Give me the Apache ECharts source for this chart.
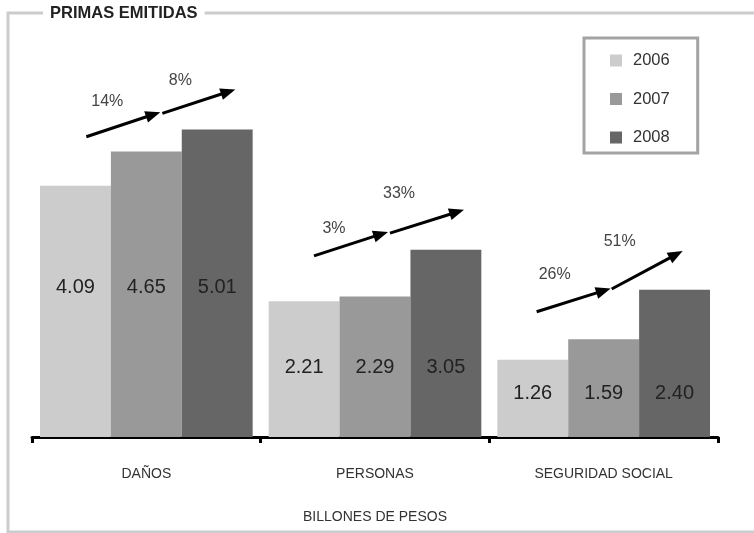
<!DOCTYPE html>
<html>
<head>
<meta charset="utf-8">
<script src="https://cdn.jsdelivr.net/npm/echarts@6/dist/echarts.min.js"></script>
<style>
html,body{margin:0;padding:0;background:#fff;}
#chart{width:754px;height:533px;}
</style>
</head>
<body>
<div id="chart"></div>
<script>
// ---- data ----
var categories = ['DAÑOS', 'PERSONAS', 'SEGURIDAD SOCIAL'];
var years = ['2006', '2007', '2008'];
var values2006 = [4.09, 2.21, 1.26];
var values2007 = [4.65, 2.29, 1.59];
var values2008 = [5.01, 3.05, 2.40];
var growth0607 = ['14%', '3%', '26%'];
var growth0708 = ['8%', '33%', '51%'];
var axisName = 'BILLONES DE PESOS';
var titleText = 'PRIMAS EMITIDAS';

// ---- styling / annotation layout ----
var colors = ['#cccccc', '#999999', '#666666'];
var labelDistance = [140, 60, 34];
// arrow geometry per category: [dx pixel offset from category centre, value]
var arrowGeom = [
  {a1: [[-60, 4.89], [14, 5.29]], a2: [[16, 5.27], [89, 5.66]], l1: [-39, 5.47], l2: [34, 5.80]},
  {a1: [[-61, 2.95], [13, 3.34]], a2: [[15, 3.32], [89, 3.70]], l1: [-41, 3.39], l2: [24, 3.96]},
  {a1: [[-67, 2.04], [7, 2.42]],  a2: [[8, 2.41], [79, 3.03]],  l1: [-49, 2.64], l2: [16, 3.19]}
];

var FONT = '"Liberation Sans", Arial, sans-serif';

function barSeries(name, vals, color) {
  return {
    name: name,
    type: 'bar',
    barGap: '0%',
    barCategoryGap: '7%',
    itemStyle: {color: color},
    label: {
      show: true,
      position: 'insideBottom',
      fontFamily: FONT,
      fontSize: 20,
      color: '#222',
      formatter: function (p) { return p.value.toFixed(2); }
    },
    data: vals.map(function (v, i) {
      return {value: v, label: {distance: labelDistance[i]}};
    })
  };
}

function arrowShapes(api, cx, seg) {
  var p0 = api.coord([0, seg[0][1]]); var p1 = api.coord([0, seg[1][1]]);
  var x0 = cx + seg[0][0], y0 = p0[1], x1 = cx + seg[1][0], y1 = p1[1];
  var dx = x1 - x0, dy = y1 - y0, len = Math.sqrt(dx * dx + dy * dy);
  var ux = dx / len, uy = dy / len;
  var hl = 15, hw = 6;
  var bx = x1 - ux * hl, by = y1 - uy * hl;
  return [
    {type: 'line', shape: {x1: x0, y1: y0, x2: bx + ux * 2, y2: by + uy * 2},
     style: {stroke: '#000', lineWidth: 3}},
    {type: 'polygon', shape: {points: [[x1, y1], [bx - uy * hw, by + ux * hw], [bx + uy * hw, by - ux * hw]]},
     style: {fill: '#000'}}
  ];
}

var chart = echarts.init(document.getElementById('chart'), null, {renderer: 'canvas'});
var option = {
  animation: false,
  color: colors,
  title: {
    text: titleText,
    left: 43,
    top: 3,
    padding: [2, 7, 2, 7],
    backgroundColor: '#fff',
    z: 10,
    textStyle: {fontFamily: FONT, fontSize: 16.5, fontWeight: 'bold', color: '#222'}
  },
  graphic: [{
    type: 'rect', z: 0, silent: true,
    shape: {x: 8, y: 13, width: 760, height: 519},
    style: {fill: null, stroke: '#cccccc', lineWidth: 3}
  }],
  legend: {
    data: years,
    orient: 'vertical',
    left: 584,
    top: 38,
    padding: [14, 28, 7, 26],
    borderColor: '#a3a3a3',
    borderWidth: 3,
    itemWidth: 12,
    itemHeight: 12,
    itemGap: 21.5,
    icon: 'rect',
    textStyle: {fontFamily: FONT, fontSize: 16.5, color: '#333', lineHeight: 16, padding: [0, 0, 0, 6]}
  },
  grid: {left: 32, right: 36, top: 68.6, bottom: 96},
  xAxis: {
    type: 'category',
    data: categories,
    name: axisName,
    nameLocation: 'middle',
    nameGap: 73,
    nameTextStyle: {fontFamily: FONT, fontSize: 14, color: '#333'},
    axisLine: {lineStyle: {color: '#000', width: 3}},
    axisTick: {show: true, length: 6, lineStyle: {color: '#000', width: 3}},
    axisLabel: {fontFamily: FONT, fontSize: 14, color: '#333', margin: 30}
  },
  yAxis: {
    type: 'value', min: 0, max: 6, show: false,
    splitLine: {show: false}
  },
  series: [
    barSeries(years[0], values2006, colors[0]),
    barSeries(years[1], values2007, colors[1]),
    barSeries(years[2], values2008, colors[2]),
    {
      type: 'custom',
      name: 'growth',
      clip: false,
      z: 5,
      data: categories.map(function (c, i) { return [i, growth0607[i], growth0708[i]]; }),
      renderItem: function (params, api) {
        var i = params.dataIndex;
        var cx = api.coord([i, 0])[0];
        var g = arrowGeom[i];
        var children = [].concat(arrowShapes(api, cx, g.a1), arrowShapes(api, cx, g.a2));
        var t1 = api.coord([i, g.l1[1]]), t2 = api.coord([i, g.l2[1]]);
        children.push({type: 'text', style: {x: cx + g.l1[0], y: t1[1], text: growth0607[i],
          align: 'center', verticalAlign: 'middle', fontFamily: FONT, fontSize: 16, fill: '#444'}});
        children.push({type: 'text', style: {x: cx + g.l2[0], y: t2[1], text: growth0708[i],
          align: 'center', verticalAlign: 'middle', fontFamily: FONT, fontSize: 16, fill: '#444'}});
        return {type: 'group', children: children};
      }
    }
  ]
};
chart.setOption(option);
</script>
</body>
</html>
